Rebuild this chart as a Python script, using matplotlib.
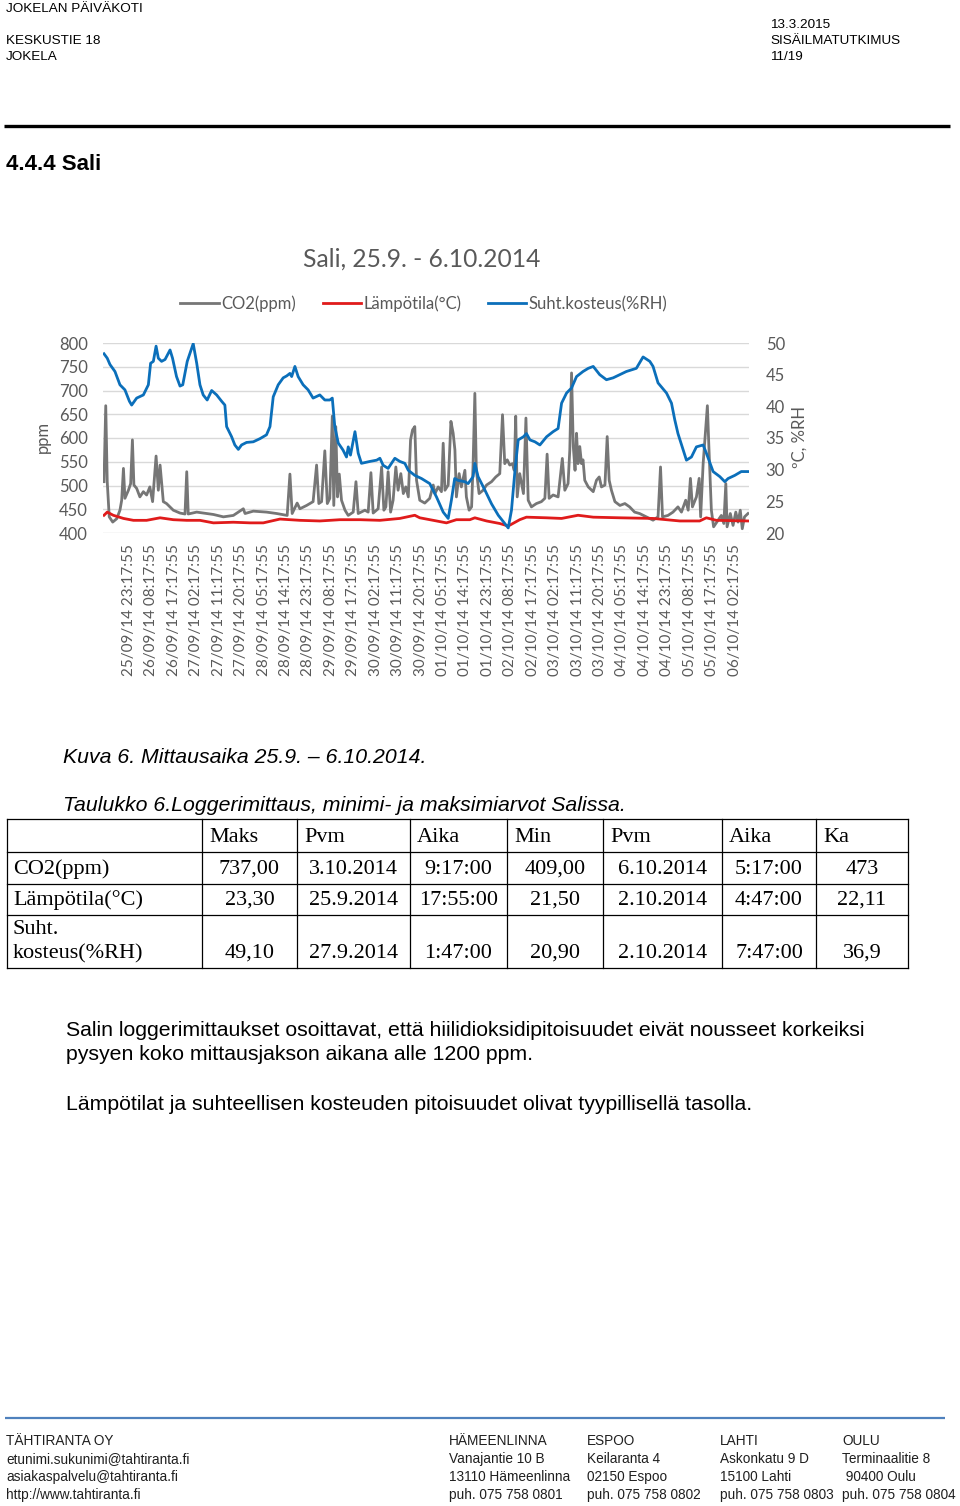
import matplotlib
matplotlib.use('Agg')
import matplotlib.pyplot as plt

# --- chart data (hours from logger start 25/09/14 13:17:55) ---
rh_t = [0, 1.3, 2.4, 4.4, 6.4, 8.4, 10.2, 11.1, 13.1, 15.8, 17.8, 18.7, 19.8, 20.9, 21.8, 23.1,
        24.5, 26.5, 27.5, 29.1, 30.5, 31.6, 33.4, 35.8, 37.2, 38.5, 39.8, 41.4, 43.2, 45.2, 47.2,
        48.5, 49.2, 51.2, 52.5, 53.9, 55.2, 57.2, 59.9, 62.6, 65.2, 66.6, 67.9, 69.9, 71.9, 73.3,
        74.6, 75.3, 76.6, 77.9, 79.9, 81.9, 83.9, 86.6, 88.6, 90.6, 91.6, 92.6, 94.0, 95.9, 97.3,
        98.0, 98.9, 100.7, 102.0, 103.3, 106.7, 109.4, 110.7, 112.0, 114.0, 116.7, 118.7, 120.7,
        122.1, 124.7, 127.4, 130.7, 133.4, 136.1, 138.1, 139.4, 140.7, 142.1, 144.8, 146.1, 148.1,
        148.8, 150.1, 152.8, 155.5, 158.2, 160.8, 162.2, 163.5, 164.9, 166.2, 168.3, 169.5, 170.9,
        172.9, 174.9, 177.6, 180.2, 182.2, 183.6, 185.6, 187.6, 189.6, 192.2, 194.3, 196.3, 198.9,
        201.6, 204.3, 207.0, 209.6, 213.6, 216.3, 219.0, 220.3, 222.3, 225.7, 227.7, 229.0, 230.3,
        232.4, 233.7, 235.7, 237.7, 240.4, 241.7, 244.4, 247.1, 249.1, 250.4, 253.1, 255.7, 258.4]
rh_v = [48.3, 47.6, 46.6, 45.5, 43.4, 42.6, 40.8, 40.2, 41.3, 41.8, 43.4, 46.8, 47.1, 49.5, 47.6, 47.1,
        47.4, 48.9, 47.6, 44.7, 43.2, 43.4, 47.1, 49.9, 46.8, 43.4, 41.8, 41.0, 42.5, 41.8, 40.8,
        40.2, 36.8, 35.2, 33.9, 33.2, 33.9, 34.3, 34.4, 34.9, 35.5, 36.8, 41.5, 43.4, 44.5, 44.8,
        45.2, 44.7, 46.3, 44.7, 43.4, 42.6, 41.3, 41.8, 41.0, 41.0, 41.3, 36.8, 34.2, 33.1, 32.0,
        33.6, 32.3, 36.0, 32.6, 31.0, 31.3, 31.5, 31.8, 30.7, 30.2, 31.8, 31.3, 31.0,
        29.9, 29.1, 28.6, 27.8, 25.7, 23.3, 22.3, 25.2, 28.6, 28.3, 28.1, 27.8, 28.9,
        31.0, 28.9, 26.8, 24.6, 22.8, 21.5, 20.8, 23.6, 29.9, 34.7, 35.2, 35.7, 34.7,
        34.4, 33.9, 35.2, 36.0, 36.5, 40.5, 42.1, 42.9, 44.7, 45.5, 46.0, 46.3, 45.0,
        44.2, 44.5, 45.0, 45.5, 46.0, 47.8, 47.1, 46.3, 43.7, 42.1, 40.5, 37.9, 35.7,
        33.1, 31.5, 32.0, 33.6, 33.9, 32.6, 29.7, 28.9, 28.1, 28.6, 29.1, 29.7, 29.7]

temp_t = [0, 1.3, 3.7, 7.8, 11.8, 17.1, 22.5, 27.8, 33.2, 38.5, 43.9, 51.9, 58.6, 63.9, 70.6,
          78.6, 86.6, 94.7, 102.7, 110.7, 118.7, 124.7, 126.7, 132.1, 137.4, 141.4, 146.8,
          148.8, 153.5, 158.8, 162.2, 166.8, 169.5, 177.6, 183.6, 190.2, 196.3, 207.0, 220.3,
          231.0, 239.0, 241.7, 245.7, 258.4]
temp_v = [22.8, 23.3, 22.8, 22.3, 22.0, 22.0, 22.4, 22.1, 22.0, 22.0, 21.6, 21.7, 21.6, 21.6, 22.2,
          22.0, 21.9, 22.1, 22.1, 22.0, 22.3, 22.8, 22.4, 22.0, 21.6, 22.1, 22.1,
          22.4, 21.9, 21.5, 21.1, 22.1, 22.5, 22.4, 22.3, 22.8, 22.5, 22.4, 22.3,
          21.9, 21.9, 22.4, 22.0, 21.9]

co2_t = [0, 0.7, 1.3, 2.1, 3.5, 5.1, 6.4, 7.1, 7.8, 8.4, 9.8, 10.7, 11.4, 12.0, 13.1, 14.4, 15.8,
         17.1, 18.4, 19.5, 20.9, 21.8, 22.5, 23.8, 25.1, 27.8, 30.5, 32.5, 33.2, 33.8, 37.2, 39.8,
         43.9, 47.9, 51.9, 55.9, 56.6, 59.9, 65.2, 69.3, 73.5, 74.6, 75.5, 77.5, 78.6, 81.3, 83.9,
         85.3, 86.2, 87.3, 88.6, 89.6, 90.6, 91.6, 92.2, 93.0, 93.7, 94.4, 95.3, 96.7, 98.0, 100.0,
         101.1, 102.0, 104.7, 106.0, 107.1, 108.0, 110.0, 111.4, 112.3, 113.1, 114.0, 115.0, 116.0,
         117.1, 118.0, 119.1, 120.1, 121.1, 122.1, 123.0, 123.8, 124.7, 125.4, 126.7, 128.7, 130.7,
         132.1, 132.8, 134.1, 135.4, 136.1, 136.8, 138.1, 139.2, 140.1, 140.8, 141.4, 142.5, 143.4,
         144.8, 145.4, 146.5, 147.5, 148.1, 148.8, 149.4, 150.5, 152.1, 153.5, 155.5, 157.2, 158.8,
         159.9, 160.8, 161.8, 162.8, 163.9, 164.6, 165.2, 165.8, 166.8, 168.3, 169.3, 170.2, 171.5,
         173.5, 175.5, 176.9, 177.8, 178.6, 180.2, 182.2, 183.9, 184.9, 186.2, 186.9, 187.6, 188.3,
         189.0, 189.6, 190.2, 190.9, 191.6, 192.2, 192.9, 194.3, 196.3, 197.6, 198.7, 199.6, 201.0,
         201.9, 202.7, 203.6, 205.0, 207.0, 209.0, 210.9, 212.9, 214.9, 217.6, 220.3, 222.3, 223.3,
         224.1, 226.3, 228.3, 230.3, 231.7, 233.4, 234.4, 235.3, 236.1, 237.7, 238.8, 239.4, 240.4,
         241.4, 242.1, 242.7, 243.7, 244.6, 246.4, 247.7, 248.7, 249.5, 250.0, 251.3, 252.4, 253.5,
         254.4, 255.3, 256.1, 257.0, 258.4]
co2_v = [508, 668, 508, 434, 423, 430, 448, 469, 536, 473, 490, 504, 596, 501, 494, 476, 487,
         480, 497, 466, 562, 490, 543, 466, 462, 448, 442, 440, 529, 440, 444, 442,
         439, 434, 437, 451, 441, 446, 444, 441, 437, 524, 441, 463, 451, 458, 466,
         543, 462, 466, 573, 462, 473, 646, 458, 624, 476, 524, 469, 448, 437, 444,
         508, 441, 448, 444, 527, 442, 451, 539, 448, 455, 529, 444, 469,
         539, 490, 525, 483, 497, 476, 596, 617, 624, 511, 469, 463, 473,
         501, 483, 497, 487, 589, 490, 501, 635, 610, 575, 476, 525, 497,
         532, 476, 448, 455, 546, 694, 532, 483, 490, 501, 508, 518, 525,
         649, 546, 554, 543, 546, 532, 646, 476, 525, 483, 642, 469, 455,
         462, 466, 473, 566, 473, 480, 476, 557, 490, 504, 575, 737, 582,
         532, 610, 546, 582, 546, 554, 511, 497, 487, 511, 518, 497, 501,
         603, 511, 490, 466, 458, 462, 455, 444, 441, 434, 427, 434, 539,
         434, 437, 444, 455, 444, 469, 448, 515, 455, 476, 515, 434, 546,
         617, 668, 582, 448, 413, 427, 437, 420, 504, 413, 441, 416, 444,
         423, 448, 409, 434, 441]

tick_labels = ['25/09/14 23:17:55', '26/09/14 08:17:55', '26/09/14 17:17:55', '27/09/14 02:17:55',
               '27/09/14 11:17:55', '27/09/14 20:17:55', '28/09/14 05:17:55', '28/09/14 14:17:55',
               '28/09/14 23:17:55', '29/09/14 08:17:55', '29/09/14 17:17:55', '30/09/14 02:17:55',
               '30/09/14 11:17:55', '30/09/14 20:17:55', '01/10/14 05:17:55', '01/10/14 14:17:55',
               '01/10/14 23:17:55', '02/10/14 08:17:55', '02/10/14 17:17:55', '03/10/14 02:17:55',
               '03/10/14 11:17:55', '03/10/14 20:17:55', '04/10/14 05:17:55', '04/10/14 14:17:55',
               '04/10/14 23:17:55', '05/10/14 08:17:55', '05/10/14 17:17:55', '06/10/14 02:17:55']
tick_pos = [10 + 9 * i for i in range(len(tick_labels))]

# --- table data ---
table_head = ['', 'Maks', 'Pvm', 'Aika', 'Min', 'Pvm', 'Aika', 'Ka']
table_rows = [
    ['CO2(ppm)', '737,00', '3.10.2014', '9:17:00', '409,00', '6.10.2014', '5:17:00', '473'],
    ['Lämpötila(°C)', '23,30', '25.9.2014', '17:55:00', '21,50', '2.10.2014', '4:47:00', '22,11'],
    ['Suht.\nkosteus(%RH)', '49,10', '27.9.2014', '1:47:00', '20,90', '2.10.2014', '7:47:00', '36,9'],
]

footer_cols = [
    ['TÄHTIRANTA OY', 'etunimi.sukunimi@tahtiranta.fi', 'asiakaspalvelu@tahtiranta.fi', 'http://www.tahtiranta.fi'],
    ['HÄMEENLINNA', 'Vanajantie 10 B', '13110 Hämeenlinna', 'puh. 075 758 0801'],
    ['ESPOO', 'Keilaranta 4', '02150 Espoo', 'puh. 075 758 0802'],
    ['LAHTI', 'Askonkatu 9 D', '15100 Lahti', 'puh. 075 758 0803'],
    ['OULU', 'Terminaalitie 8', ' 90400 Oulu', 'puh. 075 758 0804'],
]

GRAY_TXT = '#595959'
CHART_FONT = ['Lato', 'DejaVu Sans']
ARIAL = ['Liberation Sans', 'DejaVu Sans']
TIMES = ['Liberation Serif', 'DejaVu Serif']

fig = plt.figure(figsize=(9.6, 15.06), dpi=100)

# chart axes (plot area 103..749 px wide, 343..533 px high)
ax = fig.add_axes([103 / 960, 1 - 533 / 1506, 646 / 960, 190 / 1506])
ax2 = ax.twinx()

l_co2, = ax.plot(co2_t, co2_v, color='#767676', lw=2.0, solid_joinstyle='round')
l_temp, = ax2.plot(temp_t, temp_v, color='#E01B1B', lw=2.0)
l_rh, = ax2.plot(rh_t, rh_v, color='#0B6FBA', lw=2.0)

ax.set_xlim(-0.4, 258.8)
ax.set_ylim(400, 800)
ax2.set_ylim(20, 50)
ax.set_yticks(range(400, 801, 50))
ax2.set_yticks(range(20, 51, 5))
ax.grid(axis='y', color='#D9D9D9', lw=1.0)
ax.set_axisbelow(True)
ax.set_xticks(tick_pos)
ax.set_xticklabels(tick_labels, rotation=90, family=CHART_FONT, fontsize=11, color=GRAY_TXT)
for a in (ax, ax2):
    for s in a.spines.values():
        s.set_visible(False)
ax.tick_params(axis='both', length=0)
ax.tick_params(axis='x', pad=8)
ax.tick_params(axis='y', pad=11, labelsize=12, labelcolor=GRAY_TXT)
ax2.tick_params(axis='y', length=0, pad=12, labelsize=12, labelcolor=GRAY_TXT)
for lab in ax.get_yticklabels() + ax2.get_yticklabels():
    lab.set_family(CHART_FONT)

# page overlay in pixel coordinates
page = fig.add_axes([0, 0, 1, 1])
page.set_xlim(0, 960)
page.set_ylim(1506, 0)
page.axis('off')
page.patch.set_visible(False)

# header
hd = dict(family=ARIAL, fontsize=9.7, va='center', color='black')
page.text(6, 9, 'JOKELAN PÄIVÄKOTI', **hd)
page.text(770, 25, '13.3.2015', **hd)
page.text(6, 41, 'KESKUSTIE 18', **hd)
page.text(770, 41, 'SISÄILMATUTKIMUS', **hd)
page.text(6, 57, 'JOKELA', **hd)
page.text(770, 57, '11/19', **hd)
page.plot([4, 950], [126, 126], color='black', lw=2.4, solid_capstyle='butt')
page.text(6, 164, '4.4.4 Sali', family=ARIAL, fontsize=16, fontweight='bold', va='center')

# chart title, axis titles, legend
page.text(422, 259, 'Sali, 25.9. - 6.10.2014', family=CHART_FONT, fontsize=17.7,
          color=GRAY_TXT, ha='center', va='center')
page.text(43, 437, 'ppm', family=CHART_FONT, fontsize=12, color=GRAY_TXT,
          rotation=90, ha='center', va='center')
page.text(800, 437, '\u00baC, %RH', family=CHART_FONT, fontsize=12, color=GRAY_TXT,
          rotation=90, ha='center', va='center')
leg = page.legend([l_co2, l_temp, l_rh], ['CO2(ppm)', 'Lämpötila(°C)', 'Suht.kosteus(%RH)'],
                  loc='center', bbox_to_anchor=(424, 304), bbox_transform=page.transData,
                  ncol=3, frameon=False, handlelength=2.3, handletextpad=0.15,
                  columnspacing=1.6, prop={'family': CHART_FONT, 'size': 12})
for t in leg.get_texts():
    t.set_color(GRAY_TXT)

# captions
page.text(63, 757, 'Kuva 6. Mittausaika 25.9. – 6.10.2014.', family=ARIAL, fontsize=15.3,
          style='italic', va='center')
page.text(63, 805, 'Taulukko 6.Loggerimittaus, minimi- ja maksimiarvot Salissa.', family=ARIAL,
          fontsize=15.3, style='italic', va='center')

# table
col_x = [7, 202, 297, 410, 507, 603, 722, 816, 908]
row_y = [819, 852, 884, 915, 968]
for x in col_x:
    page.plot([x, x], [row_y[0], row_y[-1]], color='black', lw=0.9)
for y in row_y:
    page.plot([col_x[0], col_x[-1]], [y, y], color='black', lw=0.9)
tb = dict(family=TIMES, fontsize=16, va='center')
for j, h in enumerate(table_head):
    page.text(col_x[j] + 7, 837, h, **tb)
for i, row in enumerate(table_rows):
    top, bot = row_y[i + 1], row_y[i + 2]
    ymid = (top + bot) / 2 + 1
    yval = bot - 15 if i == 2 else ymid
    if i == 2:
        page.text(col_x[0] + 6, 929, 'Suht.', **tb)
        page.text(col_x[0] + 6, 954, 'kosteus(%RH)', **tb)
    else:
        page.text(col_x[0] + 6, ymid, row[0], **tb)
    for j in range(1, 8):
        page.text((col_x[j] + col_x[j + 1]) / 2, yval, row[j], ha='center', **tb)

# body text
bd = dict(family=ARIAL, fontsize=15.3, va='center')
page.text(66, 1031, 'Salin loggerimittaukset osoittavat, että hiilidioksidipitoisuudet eivät nousseet korkeiksi', **bd)
page.text(66, 1055, 'pysyen koko mittausjakson aikana alle 1200 ppm.', **bd)
page.text(66, 1105, 'Lämpötilat ja suhteellisen kosteuden pitoisuudet olivat tyypillisellä tasolla.', **bd)

# footer
page.plot([5, 945], [1418, 1418], color='#4F81BD', lw=1.6, solid_capstyle='butt')
foot_x = [6, 449, 587, 720, 842]
foot_y = [1441, 1459, 1477, 1495]
ft = dict(family=ARIAL, fontsize=9.8, va='center', color='#1F1F1F')
for x, col in zip(foot_x, footer_cols):
    for y, s in zip(foot_y, col):
        page.text(x, y, s, **ft)

fig.savefig('out.png', dpi=100, facecolor='white')
